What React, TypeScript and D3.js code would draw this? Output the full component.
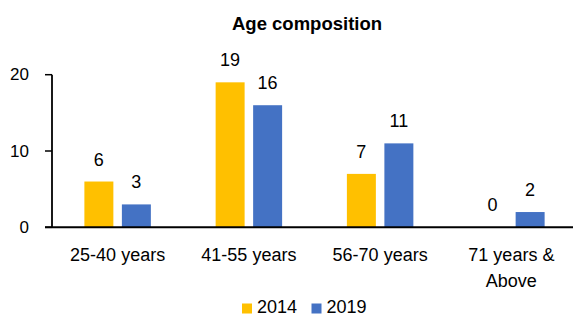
import { useEffect } from "react";
import * as d3 from "d3";

const categories = ["25-40 years", "41-55 years", "56-70 years", "71 years & Above"];
const categoryLines = [["25-40 years"], ["41-55 years"], ["56-70 years"], ["71 years &", "Above"]];
const years = ["2014", "2019"];
const values2014 = [6, 19, 7, 0];
const values2019 = [3, 16, 11, 2];
const yTicks = [0, 10, 20];

const W = 573;
const H = 316;
const FONT = "'Liberation Sans', Arial, sans-serif";
const COLORS: Record<string, string> = { "2014": "#FFC000", "2019": "#4472C4" };

export default function App() {
  useEffect(() => {
    document.body.style.margin = "0";
    document.body.style.overflow = "hidden";
  }, []);

  const x0 = d3.scaleBand<string>().domain(categories).range([52, 577]).padding(0);
  const x1 = d3
    .scaleBand<string>()
    .domain(years)
    .range([0, x0.bandwidth()])
    .paddingInner(0.227)
    .paddingOuter(0.8635);
  const y = d3.scaleLinear().domain([0, 20]).range([227.3, 74.7]);

  const series = [
    { year: "2014", values: values2014 },
    { year: "2019", values: values2019 },
  ];

  const axisLeft = 52;
  const y0 = y(0);

  return (
    <svg
      width={W}
      height={H}
      style={{ position: "fixed", left: 0, top: 0, display: "block", background: "#fff" }}
      fontFamily={FONT}
    >
      <rect width={W} height={H} fill="#fff" />
      <text x={307} y={29.5} textAnchor="middle" fontSize={18.5} fontWeight="bold" fill="#000">
        Age composition
      </text>

      {/* bars + value labels */}
      {series.map((s) =>
        s.values.map((v, i) => {
          const bx = (x0(categories[i]) ?? 0) + (x1(s.year) ?? 0);
          const by = y(v);
          return (
            <g key={s.year + i}>
              {v > 0 && (
                <rect x={bx} y={by} width={x1.bandwidth()} height={y0 - by} fill={COLORS[s.year]} />
              )}
              <text
                x={bx + x1.bandwidth() / 2}
                y={by - 16}
                textAnchor="middle"
                fontSize={18}
                fill="#000"
              >
                {v}
              </text>
            </g>
          );
        })
      )}

      {/* y axis */}
      <path d={`M${axisLeft},${y(20)}V${y0}`} stroke="#000" strokeWidth={1.8} fill="none" />
      {yTicks.map((t) => (
        <g key={t}>
          <line x1={45} x2={axisLeft} y1={y(t)} y2={y(t)} stroke="#000" strokeWidth={1.5} />
          <text x={29} y={y(t)} dy="0.33em" textAnchor="end" fontSize={17} fill="#000">
            {t}
          </text>
        </g>
      ))}

      {/* x axis */}
      <line x1={45} x2={577} y1={y0} y2={y0} stroke="#000" strokeWidth={2} />
      {categories.map((c, i) => (
        <text key={c} textAnchor="middle" fontSize={18} fill="#000">
          {categoryLines[i].map((ln, j) => (
            <tspan key={j} x={(x0(c) ?? 0) + x0.bandwidth() / 2} y={261 + j * 26}>
              {ln}
            </tspan>
          ))}
        </text>
      ))}

      {/* legend */}
      {years.map((yr, i) => (
        <g key={yr} transform={`translate(${242 + i * 69.5},0)`}>
          <rect x={0} y={303.5} width={10} height={10} fill={COLORS[yr]} />
          <text x={15} y={313} fontSize={18} fill="#000">
            {yr}
          </text>
        </g>
      ))}
    </svg>
  );
}
